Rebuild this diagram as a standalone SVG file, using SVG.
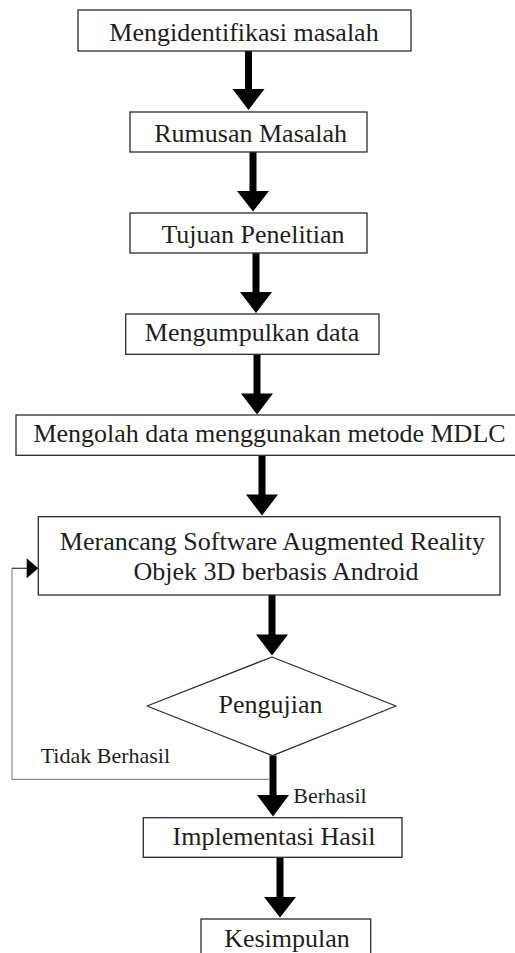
<svg xmlns="http://www.w3.org/2000/svg" width="515" height="953" viewBox="0 0 515 953">
  <style>
    .box { fill: #ffffff; stroke: #2b2b2b; stroke-width: 1.3; }
    .label { font-family: "Liberation Serif", "Times New Roman", serif; font-size: 26px; fill: #1e1e1e; text-anchor: middle; }
    .small { font-family: "Liberation Serif", "Times New Roman", serif; font-size: 22px; fill: #1e1e1e; }
    .flow { fill: #000000; }
    .loop { fill: none; stroke: #8c8c8c; stroke-width: 1.2; }
  </style>
  <rect width="515" height="953" fill="#ffffff"/>

  <!-- connectors -->
  <g id="connectors">
    <path class="flow" d="M245 51 H252 V89 H264.5 L248.5 110 L232.5 89 H245 Z"/>
    <path class="flow" d="M249.5 152 H256.5 V191 H269 L253 211.5 L237 191 H249.5 Z"/>
    <path class="flow" d="M252.5 253 H259.5 V292 H272 L256 313 L240 292 H252.5 Z"/>
    <path class="flow" d="M253.5 354.3 H260.5 V393.5 H273 L257 414.5 L241 393.5 H253.5 Z"/>
    <path class="flow" d="M258.5 455.3 H265.5 V494.5 H278 L262 515.5 L246 494.5 H258.5 Z"/>
    <path class="flow" d="M268.5 595 H275.5 V634.5 H288 L272 655.5 L256 634.5 H268.5 Z"/>
    <path class="flow" d="M269.5 755.5 H276.5 V795 H289 L273 816.5 L257 795 H269.5 Z"/>
    <path class="flow" d="M276.5 857.3 H283.5 V897 H296 L280 917.5 L264 897 H276.5 Z"/>
    <!-- loop back from the test to the design step -->
    <path class="loop" d="M269 779.3 H12 V568.3"/>
    <path d="M12 568.3 H28" fill="none" stroke="#333333" stroke-width="1.2"/>
    <path fill="#000000" d="M26.7 558.3 L38.3 568.3 L26.7 578.3 Z"/>
  </g>

  <g id="n1">
    <rect class="box" x="78" y="10" width="333" height="41"/>
    <text class="label" x="244" y="41">Mengidentifikasi masalah</text>
  </g>
  <g id="n2">
    <rect class="box" x="130" y="112" width="237" height="40"/>
    <text class="label" x="250.7" y="141.7">Rumusan Masalah</text>
  </g>
  <g id="n3">
    <rect class="box" x="130" y="213" width="237" height="40"/>
    <text class="label" x="253" y="243">Tujuan Penelitian</text>
  </g>
  <g id="n4">
    <rect class="box" x="125.7" y="314" width="253.3" height="40.3"/>
    <text class="label" x="252" y="341">Mengumpulkan data</text>
  </g>
  <g id="n5">
    <rect class="box" x="16" y="415" width="500" height="40.3"/>
    <text class="label" x="269.5" y="441.7">Mengolah data menggunakan metode MDLC</text>
  </g>
  <g id="n6">
    <rect class="box" x="38.3" y="516.7" width="461.7" height="78.3"/>
    <text class="label" x="272.5" y="550">Merancang Software Augmented Reality</text>
    <text class="label" x="276" y="580">Objek 3D berbasis Android</text>
  </g>
  <g id="n7">
    <path class="box" stroke-linejoin="round" d="M272 657 L396 706 L272.5 755.7 L147 706 Z"/>
    <text class="label" x="270.5" y="713.3">Pengujian</text>
  </g>
  <g id="labels">
    <text class="small" x="40.7" y="763.3">Tidak Berhasil</text>
    <text class="small" x="293.3" y="803.3">Berhasil</text>
  </g>
  <g id="n8">
    <rect class="box" x="143.3" y="817.7" width="258.7" height="39.6"/>
    <text class="label" x="274" y="845">Implementasi Hasil</text>
  </g>
  <g id="n9">
    <rect class="box" x="201" y="919" width="169.7" height="50"/>
    <text class="label" x="287" y="946.7">Kesimpulan</text>
  </g>
</svg>
